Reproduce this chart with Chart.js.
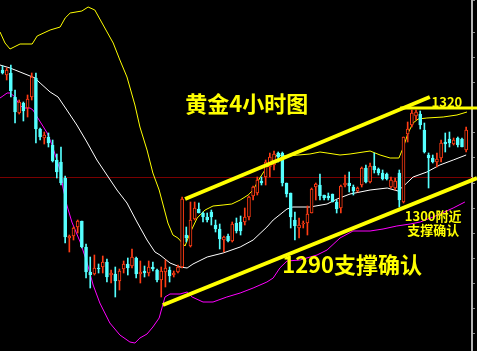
<!DOCTYPE html>
<html>
<head>
<meta charset="utf-8">
<script src="https://cdn.jsdelivr.net/npm/chart.js@4.4.0/dist/chart.umd.min.js"></script>
<style>
  html, body { margin: 0; padding: 0; background: #000; }
  canvas { display: block; }
</style>
</head>
<body>
<canvas id="chart" width="477" height="351"></canvas>
<script>
// Gold 4h candles (price)
const opens = [1327.6,1326.6,1327.0,1322.2,1319.0,1321.0,1320.0,1322.2,1326.0,1315.8,
  1314.0,1314.2,1312.6,1309.6,1309.2,1306.0,1294.0,1294.4,1296.2,1297.4,
  1292.2,1287.2,1286.8,1288.0,1288.2,1289.2,1286.6,1286.8,1285.4,1287.8,
  1288.8,1288.4,1290.0,1286.8,1287.4,1287.0,1288.2,1287.6,1285.6,1287.2,
  1287.6,1286.6,1287.2,1288.2,1294.6,1292.4,1297.8,1299.8,1299.0,1298.2,
  1299.2,1296.6,1295.8,1293.6,1294.4,1293.4,1297.0,1297.2,1297.2,1298.2,
  1302.4,1303.0,1305.4,1306.2,1308.2,1308.6,1311.0,1311.0,1305.0,1303.0,
  1297.6,1296.0,1296.8,1297.0,1299.0,1304.2,1304.6,1302.6,1302.4,1302.8,
  1301.2,1300.0,1304.6,1305.0,1304.2,1303.4,1304.6,1308.0,1305.2,1308.4,
  1307.8,1307.0,1306.8,1304.2,1304.0,1307.0,1301.2,1314.8,1316.6,1318.4,
  1318.8,1315.6,1310.6,1310.0,1309.2,1310.0,1313.2,1313.8,1312.8,1314.0,
  1313.8,1311.6];
const highs = [1328.4,1328.0,1328.6,1323.6,1321.6,1321.2,1322.6,1327.0,1327.0,1316.0,
  1315.2,1315.0,1313.6,1310.8,1312.2,1306.4,1294.6,1296.2,1297.6,1297.4,
  1292.8,1290.2,1290.6,1288.8,1290.4,1289.8,1287.6,1288.2,1287.8,1289.4,
  1290.0,1291.8,1290.2,1289.4,1288.4,1289.4,1289.2,1287.8,1288.2,1289.6,
  1288.2,1287.4,1288.6,1302.2,1296.2,1301.2,1301.2,1301.0,1299.2,1299.0,
  1299.6,1297.6,1296.8,1294.4,1294.8,1297.2,1298.0,1298.4,1300.0,1302.4,
  1304.4,1306.2,1306.2,1309.6,1311.0,1311.4,1311.2,1311.2,1305.0,1303.0,
  1299.2,1298.0,1297.4,1300.4,1304.0,1305.0,1306.8,1302.6,1303.0,1302.8,
  1301.6,1304.6,1306.6,1307.2,1304.6,1304.2,1308.2,1308.6,1309.0,1311.0,
  1308.0,1307.6,1307.0,1306.2,1306.0,1307.6,1314.2,1317.2,1319.6,1319.6,
  1319.4,1317.0,1311.0,1310.6,1311.0,1313.6,1315.0,1315.2,1314.0,1314.2,
  1314.0,1316.2];
const lows = [1326.8,1325.6,1322.2,1317.0,1318.8,1317.4,1318.2,1321.6,1313.0,1313.6,
  1312.8,1312.2,1309.2,1306.0,1304.6,1293.0,1291.2,1293.6,1295.0,1292.0,
  1286.0,1284.0,1286.6,1287.0,1287.0,1285.2,1285.0,1282.2,1283.6,1287.0,
  1286.6,1288.0,1286.0,1285.0,1286.2,1286.4,1287.4,1285.2,1282.2,1284.2,
  1285.2,1286.2,1287.0,1288.0,1293.2,1292.2,1297.6,1299.0,1297.2,1297.2,
  1296.6,1295.2,1291.8,1291.2,1293.2,1293.2,1295.0,1294.6,1296.6,1297.6,
  1301.6,1302.6,1304.6,1304.6,1306.2,1307.6,1309.2,1304.4,1302.2,1296.0,
  1293.6,1294.0,1296.0,1294.6,1299.0,1301.6,1301.6,1301.6,1301.6,1301.2,
  1299.0,1299.0,1304.2,1303.2,1302.6,1303.2,1304.2,1305.0,1305.0,1307.0,
  1306.6,1305.6,1305.6,1304.0,1303.6,1300.2,1301.0,1313.2,1316.2,1317.6,
  1315.8,1311.0,1304.0,1309.0,1308.2,1309.2,1311.2,1312.2,1312.6,1312.2,
  1312.2,1311.2];
const closes = [1327.0,1327.6,1323.4,1319.2,1321.2,1319.4,1321.8,1326.2,1315.8,1314.2,
  1314.6,1313.0,1309.4,1307.2,1305.0,1294.2,1294.4,1296.0,1297.4,1292.2,
  1287.2,1286.6,1288.0,1287.8,1289.2,1286.2,1287.0,1285.4,1287.4,1288.8,
  1288.0,1290.2,1286.8,1287.2,1287.0,1288.2,1287.8,1285.6,1287.4,1288.0,
  1286.4,1287.0,1288.2,1301.8,1294.0,1297.6,1300.0,1299.0,1298.2,1297.6,
  1298.2,1295.8,1293.8,1294.2,1293.4,1296.8,1295.4,1295.4,1298.2,1302.2,
  1304.2,1305.6,1305.0,1309.2,1310.2,1310.8,1310.2,1305.0,1302.8,1298.2,
  1296.4,1296.6,1297.0,1298.8,1303.8,1304.8,1302.4,1302.0,1302.0,1301.2,
  1299.8,1304.4,1305.0,1304.4,1303.4,1304.0,1308.0,1305.2,1308.4,1307.6,
  1307.0,1305.8,1305.8,1305.6,1305.4,1301.6,1314.2,1315.8,1319.0,1319.2,
  1316.6,1311.2,1310.0,1309.2,1309.8,1313.0,1312.8,1313.0,1313.6,1312.6,
  1312.2,1315.6];

// Bollinger bands, [bar index, price]
const upperBand = [[-0.6,1335.2],[0.6,1333.0],[1.8,1331.8],[4.2,1332.8],[7.1,1332.8],[8.3,1334.4],
  [11.4,1335.6],[13.8,1336.2],[15.0,1338.0],[16.2,1339.0],[19.0,1339.4],[20.5,1340.2],[22.1,1339.6],
  [24.1,1336.6],[26.5,1333.0],[28.1,1329.6],[29.8,1326.2],[31.7,1320.6],[32.9,1316.2],[34.6,1311.6],
  [36.0,1307.0],[37.5,1303.6],[39.6,1297.0],[40.8,1294.6],[42.0,1294.0],[43.7,1292.4],[44.9,1295.0],
  [46.6,1298.0],[48.5,1299.6],[50.4,1300.4],[52.8,1300.6],[54.9,1300.8],[56.9,1301.6],[58.8,1302.6],
  [60.0,1303.6],[61.6,1306.0],[63.3,1308.2],[65.7,1310.6],[68.1,1310.4],[73.6,1310.8],[76.0,1311.2],
  [77.7,1311.0],[80.8,1310.6],[83.2,1310.8],[88.0,1311.4],[90.4,1310.6],[92.8,1310.0],[94.9,1310.0],
  [95.9,1312.0],[97.1,1315.0],[98.3,1317.0],[99.5,1317.8],[101.6,1318.0],[105.5,1318.2],[108.8,1318.6],
  [111.2,1319.2]];
const middleBand = [[-0.6,1328.6],[1.8,1328.0],[4.2,1327.2],[6.6,1326.4],[7.8,1326.0],[9.0,1325.0],
  [11.4,1323.2],[13.3,1322.2],[15.4,1319.6],[17.8,1316.6],[20.2,1313.2],[22.6,1309.6],[25.0,1306.6],
  [27.4,1303.6],[29.8,1301.0],[32.2,1297.2],[34.6,1293.6],[36.5,1291.2],[37.7,1290.6],[40.1,1289.0],
  [42.5,1288.2],[44.2,1288.0],[45.6,1288.8],[49.0,1290.2],[52.8,1291.0],[56.9,1292.2],[60.0,1293.6],
  [63.3,1296.2],[64.8,1297.6],[68.1,1299.8],[69.5,1300.2],[73.6,1300.2],[77.7,1300.8],[80.1,1301.8],
  [83.2,1302.8],[88.0,1303.6],[92.1,1304.0],[94.7,1303.4],[96.8,1305.0],[98.3,1306.2],[101.6,1307.2],
  [104.7,1308.6],[107.9,1309.6],[111.0,1310.6]];
const lowerBand = [[-0.6,1322.0],[0.1,1322.4],[1.1,1323.0],[1.8,1323.0],[3.0,1322.2],[4.2,1320.4],
  [5.4,1320.0],[6.6,1320.0],[7.3,1319.6],[8.3,1318.2],[9.5,1316.6],[10.7,1315.0],[11.4,1313.6],
  [12.1,1312.0],[13.0,1309.6],[13.8,1307.6],[14.5,1304.0],[15.4,1300.6],[16.6,1297.2],[18.6,1293.2],
  [20.2,1289.2],[21.7,1284.6],[23.3,1281.0],[25.7,1277.0],[28.1,1274.6],[30.5,1273.2],[31.7,1273.0],
  [32.9,1274.0],[34.6,1274.8],[36.0,1276.2],[37.5,1278.0],[38.9,1282.2],[40.1,1282.8],[42.5,1282.8],
  [44.2,1283.2],[45.4,1282.2],[48.0,1281.2],[50.4,1281.2],[53.7,1282.2],[56.9,1283.0],[60.0,1284.0],
  [63.3,1285.2],[64.8,1286.0],[66.4,1288.0],[68.1,1289.4],[71.2,1289.6],[75.3,1290.6],[77.7,1291.6],
  [80.8,1294.0],[83.9,1295.4],[88.0,1295.4],[91.1,1295.8],[94.4,1296.4],[97.6,1296.8],[100.0,1297.2],
  [103.1,1298.2],[107.9,1300.0],[110.7,1301.2]];

// hand-drawn channel lines and levels
const channelTop = [[43.7,1301.8],[102.3,1322.2]];
const channelBottom = [[38.4,1280.6],[113.6,1306.0]];
const level1320 = [[95.2,1320.0],[113.6,1320.0]];
const priceLine = [[-0.6,1306.1],[112.4,1306.1]];

const notes = [
  { text: '黄金4小时图', at: [58.5, 1320.8], size: 22 },
  { text: '1320', at: [106.4, 1321.2], size: 13 },
  { text: '1300附近', at: [103.1, 1298.4], size: 13 },
  { text: '支撑确认', at: [103.1, 1295.5], size: 13 },
  { text: '1290支撑确认', at: [83.7, 1288.6], size: 22 }
];

const UP = '#ff3c14';
const DOWN = '#55ffff';
const isUp = closes.map((c, i) => c > opens[i]);

const notePlugin = {
  id: 'notes',
  afterDatasetsDraw(chart) {
    const { ctx, scales: { x, y } } = chart;
    ctx.save();
    ctx.fillStyle = '#ffff00';
    ctx.textAlign = 'center';
    ctx.textBaseline = 'middle';
    notes.forEach(n => {
      ctx.font = `bold ${n.size}px "Noto Sans CJK SC", sans-serif`;
      ctx.fillText(n.text, x.getPixelForValue(n.at[0]), y.getPixelForValue(n.at[1]));
    });
    ctx.restore();
  }
};

const line = (data, color, width, order, extra = {}) => ({
  type: 'line', data, borderColor: color, borderWidth: width,
  pointRadius: 0, tension: 0, fill: false, order, ...extra
});

new Chart(document.getElementById('chart'), {
  type: 'bar',
  data: {
    datasets: [
      line(channelTop, '#ffff00', 4, 0),
      line(channelBottom, '#ffff00', 4, 0, { clip: false }),
      line(level1320, '#ffff00', 3, 0, { clip: false }),
      {
        label: 'body',
        data: opens.map((o, i) => ({ x: i, y: [o, closes[i]] })),
        backgroundColor: isUp.map(u => u ? '#000' : DOWN),
        borderColor: isUp.map(u => u ? UP : DOWN),
        borderWidth: 1,
        borderSkipped: false,
        barThickness: 3,
        minBarLength: 1,
        grouped: false,
        order: 1
      },
      {
        label: 'wick',
        data: lows.map((l, i) => ({ x: i, y: [l, highs[i]] })),
        backgroundColor: isUp.map(u => u ? UP : DOWN),
        borderWidth: 0,
        barThickness: 1,
        grouped: false,
        order: 2
      },
      line(upperBand, '#ffff00', 1, 3),
      line(middleBand, '#ffffff', 1, 3),
      line(lowerBand, '#ff00ff', 1, 3),
      line(priceLine, '#7a0000', 1, 4)
    ]
  },
  options: {
    responsive: false,
    animation: false,
    devicePixelRatio: 1,
    layout: { padding: 0 },
    plugins: { legend: { display: false }, tooltip: { enabled: false } },
    scales: {
      x: {
        type: 'linear', min: -0.6, max: 112.4, display: false,
        offset: false, grid: { offset: false }
      },
      y: {
        position: 'right',
        min: 1271.4,
        max: 1341.6,
        ticks: { display: false, stepSize: 5 },
        grid: { drawOnChartArea: false, color: '#8c8c8c', tickLength: 3 },
        border: { color: '#b4b4b4', width: 2 },
        afterFit(scale) { scale.width = 5; }
      }
    }
  },
  plugins: [notePlugin]
});
</script>
</body>
</html>
